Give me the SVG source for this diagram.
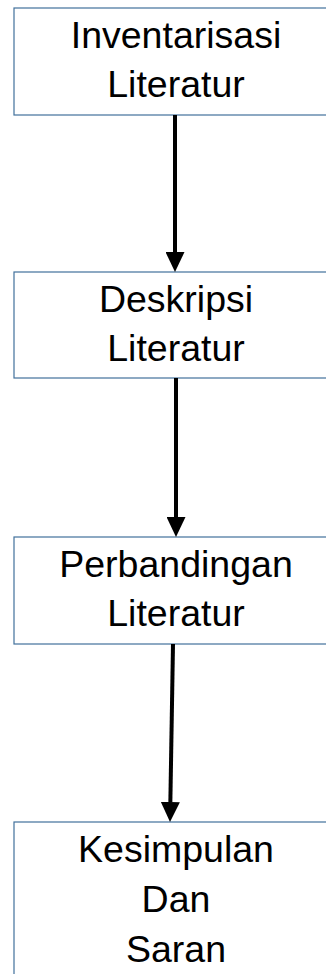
<svg xmlns="http://www.w3.org/2000/svg" width="326" height="974" viewBox="0 0 326 974">
<style>
.box{fill:#fff;stroke:#41719c;stroke-width:1.2}
.lbl{font-family:"Liberation Sans",Arial,sans-serif;font-size:37.5px;fill:#000;text-anchor:middle}
.conn{stroke:#000;stroke-width:4;fill:none}
</style>
<defs>
<marker id="ah" markerUnits="userSpaceOnUse" markerWidth="20" markerHeight="19" refX="0" refY="9.5" orient="auto" viewBox="0 0 20 19">
<path d="M0,0 L20,9.5 L0,19 Z" fill="#000"/>
</marker>
</defs>
<rect width="326" height="974" fill="#fff"/>
<g id="node1"><rect class="box" x="14" y="8" width="330" height="107"/><text class="lbl" x="176" y="48">Inventarisasi</text><text class="lbl" x="176" y="97">Literatur</text></g>
<g id="node2"><rect class="box" x="14" y="272" width="330" height="106"/><text class="lbl" x="176" y="312">Deskripsi</text><text class="lbl" x="176" y="361">Literatur</text></g>
<g id="node3"><rect class="box" x="14" y="537" width="330" height="107"/><text class="lbl" x="176" y="577">Perbandingan</text><text class="lbl" x="176" y="626">Literatur</text></g>
<g id="node4"><rect class="box" x="14" y="822" width="330" height="170"/><text class="lbl" x="176" y="862">Kesimpulan</text><text class="lbl" x="176" y="912">Dan</text><text class="lbl" x="176" y="962">Saran</text></g>
<g id="connectors">
<line class="conn" x1="175" y1="115" x2="175" y2="252" marker-end="url(#ah)"/>
<line class="conn" x1="176" y1="378" x2="176" y2="517" marker-end="url(#ah)"/>
<line class="conn" x1="173" y1="644" x2="170.35" y2="802" marker-end="url(#ah)"/>
</g>
</svg>
